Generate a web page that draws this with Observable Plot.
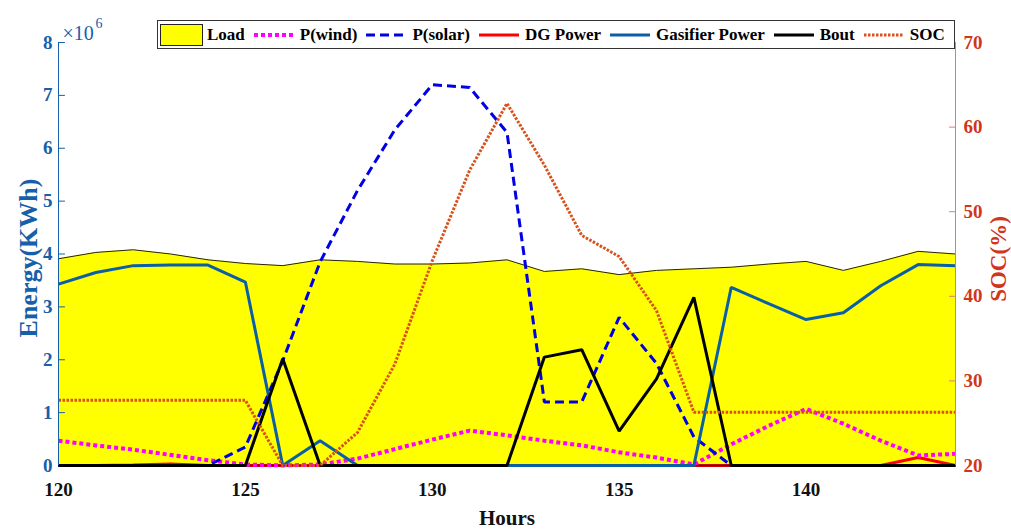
<!DOCTYPE html>
<html>
<head>
<meta charset="utf-8">
<script src="https://cdn.jsdelivr.net/npm/d3@7"></script>
<script src="https://cdn.jsdelivr.net/npm/@observablehq/plot@0.6"></script>
<style>
  html, body { margin: 0; padding: 0; background: #fff; }
  #wrap { position: relative; width: 1011px; height: 532px; overflow: hidden; }
  #legend {
    position: absolute; left: 157px; top: 20px; height: 27px; width: 794px;
    border: 1px solid #333; background: #fff; box-sizing: content-box;
    display: flex; align-items: center; padding-left: 2px;
    font: bold 17px "Liberation Serif", serif; color: #000; white-space: nowrap;
  }
  #legend .item { display: flex; align-items: center; margin-right: 8px; }
  #legend .item svg { display: block; margin-right: 4px; }
</style>
</head>
<body>
<div id="wrap"><div id="legend"></div></div>
<script>
// ---- data ----
const hours    = [120,121,122,123,124,125,126,127,128,129,130,131,132,133,134,135,136,137,138,139,140,141,142,143,144];
const load     = [3.91,4.03,4.08,4.00,3.89,3.82,3.78,3.89,3.86,3.81,3.81,3.83,3.89,3.67,3.72,3.61,3.69,3.72,3.75,3.81,3.86,3.69,3.86,4.05,4.00];
const pWind    = [0.47,0.38,0.30,0.20,0.10,0.02,0.00,0.02,0.13,0.31,0.49,0.66,0.57,0.47,0.38,0.25,0.15,0.02,0.40,0.75,1.07,0.79,0.47,0.19,0.22];
const pSolar   = [0,0,0,0,0,0.35,1.98,3.85,5.20,6.35,7.20,7.15,6.30,1.20,1.20,2.80,1.93,0.54,0,0,0,0,0,0,0];
const dgPower  = [0,0,0.01,0.03,0,0,0,0,0,0,0,0,0,0,0,0,0,0,0,0,0,0,0,0.15,0];
const gasifier = [3.43,3.65,3.78,3.79,3.79,3.47,0,0.47,0,0,0,0,0,0,0,0,0,0,3.37,3.06,2.76,2.89,3.40,3.80,3.78];
const bout     = [0,0,0,0,0,0,2.02,0,0,0,0,0,0,2.05,2.19,0.65,1.64,3.18,0,0,0,0,0,0,0];
const soc      = [27.7,27.7,27.7,27.7,27.7,27.7,20,20,23.9,32.0,44.2,54.9,62.8,55.5,47.2,44.7,38.3,26.3,26.3,26.3,26.3,26.3,26.3,26.3,26.3];

const xTicks   = [120,125,130,135,140];
const yTicks   = [0,1,2,3,4,5,6,7,8];
const socTicks = [20,30,40,50,60,70];

const series = [
  {name:"Load", kind:"area", color:"#ffff00"},
  {name:"P(wind)", color:"#ff00ff", width:4, dash:"4,3"},
  {name:"P(solar)", color:"#0000e6", width:3, dash:"9,5"},
  {name:"DG Power", color:"#ff0000", width:3},
  {name:"Gasifier Power", color:"#0b5fa5", width:3},
  {name:"Bout", color:"#000000", width:3},
  {name:"SOC", color:"#d9501a", width:3, dash:"2.5,1.5"}
];

// ---- build ----
const blue = "#1560a8", red = "#d0361a";
const socToY = d3.scaleLinear([20, 70], [0, 8]);
const rows = hours.map((h, i) => ({
  hour: h, load: load[i], wind: pWind[i], solar: pSolar[i], dg: dgPower[i],
  gas: gasifier[i], bout: bout[i], socY: socToY(soc[i])
}));
const tickShape = {draw(ctx, l) { ctx.moveTo(0, 0); ctx.lineTo(0, -l); }};
const lineOpts = (key, s) => ({
  x: "hour", y: key, stroke: s.color, strokeWidth: s.width,
  strokeDasharray: s.dash, strokeLinecap: "butt", strokeLinejoin: "miter"
});

const chart = Plot.plot({
  width: 1011, height: 532,
  marginLeft: 58, marginRight: 56, marginTop: 42, marginBottom: 67,
  style: {fontFamily: "'Liberation Serif', serif", fontWeight: "bold", background: "transparent", overflow: "visible"},
  x: {domain: [120, 144], label: null},
  y: {domain: [0, 8], label: null},
  marks: [
    Plot.areaY(rows, {x: "hour", y: "load", fill: series[0].color}),
    Plot.lineY(rows, {x: "hour", y: "load", stroke: "#222", strokeWidth: 1}),
    Plot.lineY(rows, lineOpts("dg", series[3])),
    Plot.ruleY([0], {stroke: "#111", strokeWidth: 1.5}),
    Plot.lineY(rows, lineOpts("wind", series[1])),
    Plot.lineY(rows, lineOpts("solar", series[2])),
    Plot.lineY(rows, lineOpts("gas", series[4])),
    Plot.lineY(rows, lineOpts("bout", series[5])),
    Plot.lineY(rows, lineOpts("socY", series[6])),
    Plot.ruleX([120], {stroke: blue, strokeWidth: 1}),
    Plot.ruleX([144], {stroke: "#e07a7a", strokeWidth: 1}),
    Plot.vector(yTicks.slice(1), {x: 120, y: d => d, length: 6, rotate: 90, anchor: "start", shape: tickShape, stroke: blue, strokeWidth: 1}),
    Plot.vector(socTicks.slice(1), {x: 144, y: d => socToY(d), length: 6, rotate: -90, anchor: "start", shape: tickShape, stroke: "#e07a7a", strokeWidth: 1}),
    Plot.axisX({ticks: xTicks, tickSize: 0, tickPadding: 17, fontSize: 19, fontWeight: "bold", color: "#111", label: null}),
    Plot.axisY({ticks: yTicks, anchor: "left", tickSize: 0, tickPadding: 6, fontSize: 19, fontWeight: "bold", color: blue, label: null}),
    Plot.axisY(socTicks.map(s => socToY(s)), {anchor: "right", tickSize: 0, tickPadding: 8, fontSize: 19, fontWeight: "bold", color: red, label: null,
      tickFormat: y => String(Math.round(socToY.invert(y)))}),
    Plot.text(["Energy(KWh)"], {frameAnchor: "left", textAnchor: "middle", lineAnchor: "middle", dx: -30, dy: 4, rotate: -90, fontSize: 26, fontWeight: "bold", fill: blue}),
    Plot.text(["SOC(%)"], {frameAnchor: "right", textAnchor: "middle", lineAnchor: "middle", dx: 43, dy: 5, rotate: -90, fontSize: 23, fontWeight: "bold", fill: red}),
    Plot.text(["Hours"], {frameAnchor: "bottom", textAnchor: "middle", lineAnchor: "middle", dy: 53, fontSize: 21, fontWeight: "bold", fill: "#111"}),
    Plot.text(["×10"], {frameAnchor: "top-left", dx: 4, dy: -17, textAnchor: "start", fontSize: 20, fontWeight: "normal", fill: blue}),
    Plot.text(["6"], {frameAnchor: "top-left", dx: 37, dy: -24, textAnchor: "start", fontSize: 14, fontWeight: "normal", fill: blue})
  ]
});
document.getElementById("wrap").prepend(chart);

// ---- legend ----
const legend = d3.select("#legend");
series.forEach(s => {
  const item = legend.append("div").attr("class", "item");
  const svg = item.append("svg").attr("width", 43).attr("height", 22);
  if (s.kind === "area") {
    svg.append("rect").attr("x", 0.5).attr("y", 0.5).attr("width", 42).attr("height", 21)
      .attr("fill", s.color).attr("stroke", "#222").attr("stroke-width", 1);
  } else {
    svg.append("line").attr("x1", 1).attr("x2", 41).attr("y1", 11).attr("y2", 11)
      .attr("stroke", s.color).attr("stroke-width", s.width)
      .attr("stroke-dasharray", s.dash || null);
  }
  item.append("span").text(s.name);
});
</script>
</body>
</html>
